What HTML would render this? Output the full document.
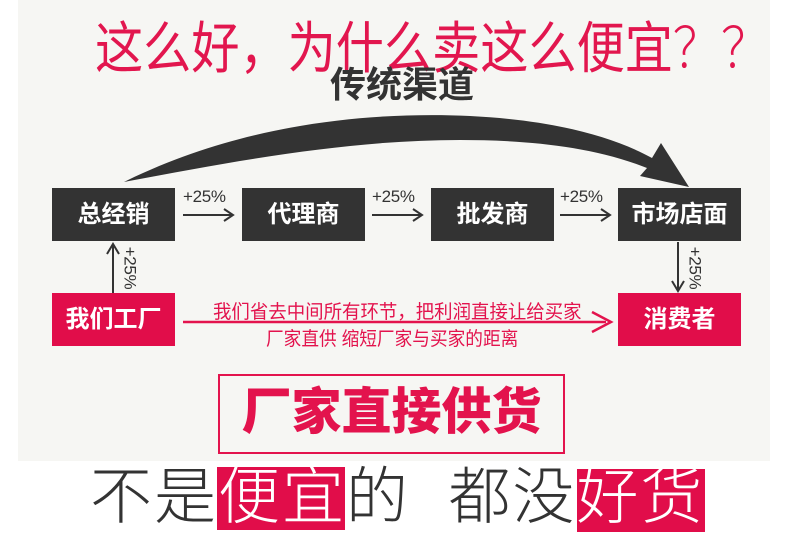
<!DOCTYPE html>
<html><head><meta charset="utf-8"><style>
body{margin:0;width:790px;height:550px;background:#fff;position:relative;overflow:hidden;font-family:"Liberation Sans","Noto Sans CJK SC",sans-serif}
.a{position:absolute}
.bg{left:18px;top:0;width:752px;height:461px;background:#f6f6f3}
.box{position:absolute;width:123px;height:53px;color:#fff;font-size:24px;line-height:53px;text-align:center;font-weight:bold}
.dk{background:#333}
.rd{background:#e10d4a}
.pc{position:absolute;font-size:17px;color:#333;letter-spacing:-0.3px}
</style></head><body>
<div class="a bg"></div>
<div class="a" style="left:95px;top:4px;font-size:56px;color:#e2164e;white-space:nowrap;transform:scaleX(0.86);transform-origin:0 0">这么好，为什么卖这么便宜<span style="font-weight:200">？？</span></div>
<div class="a" style="left:330px;top:56px;font-size:36px;color:#333;font-weight:bold">传统渠道</div>
<svg class="a" style="left:0;top:0" width="790" height="550">
<path d="M124,182 C250,120 380,112 470,116 C550,120 610,135 652,158 L661,143 L689,187 L640,176 L647,168 C590,145 520,140 460,140 C350,140 240,160 124,182 Z" fill="#333"/>
<g stroke="#333" stroke-width="2" fill="none">
<path d="M183,215 H232 M224,209 L233,215 L224,221"/>
<path d="M372,215 H421 M413,209 L422,215 L413,221"/>
<path d="M560,215 H609 M601,209 L610,215 L601,221"/>
<path d="M113,293 V245 M107,254 L113,244 L119,254"/>
<path d="M678,242 V290 M672,281 L678,291 L684,281"/>
</g>
<path d="M183,322 H606" stroke="#e3134d" stroke-width="2.5"/>
<path d="M592,312 L611,322 L592,332" stroke="#e3134d" stroke-width="2.5" fill="none"/>
</svg>
<div class="pc" style="left:183px;top:187px">+25%</div>
<div class="pc" style="left:372px;top:187px">+25%</div>
<div class="pc" style="left:560px;top:187px">+25%</div>
<div class="pc" style="left:108px;top:258px;transform:rotate(90deg)">+25%</div>
<div class="pc" style="left:673px;top:258px;transform:rotate(90deg)">+25%</div>
<div class="box dk" style="left:52px;top:188px">总经销</div>
<div class="box dk" style="left:242px;top:188px">代理商</div>
<div class="box dk" style="left:431px;top:188px">批发商</div>
<div class="box dk" style="left:618px;top:188px">市场店面</div>
<div class="box rd" style="left:52px;top:293px">我们工厂</div>
<div class="box rd" style="left:618px;top:293px">消费者</div>
<div class="a" style="left:213px;top:297px;font-size:19px;color:#e3134d;white-space:nowrap;transform:scaleX(0.97);transform-origin:0 0">我们省去中间所有环节，把利润直接让给买家</div>
<div class="a" style="left:266px;top:324px;font-size:19px;color:#e3134d;white-space:nowrap;transform:scaleX(0.93);transform-origin:0 0">厂家直供 缩短厂家与买家的距离</div>
<div class="a" style="left:218px;top:374px;width:343px;height:76px;border:2px solid #e3134d"></div>
<div class="a" style="left:240px;top:382px;width:303px;text-align:center;font-size:50px;line-height:60px;font-weight:900;color:#e3134d">厂家直接供货</div>
<div class="a" style="left:217px;top:467px;width:128px;height:63px;background:#e10d4a"></div>
<div class="a" style="left:577px;top:469px;width:128px;height:63px;background:#e10d4a"></div>
<div class="a" style="left:90px;top:462px;font-size:62px;line-height:72px;font-weight:200;color:#333;white-space:nowrap;letter-spacing:2px">不是<span style="color:#fff">便宜</span>的&nbsp;&nbsp;都没<span style="color:#fff">好货</span></div>
</body></html>
